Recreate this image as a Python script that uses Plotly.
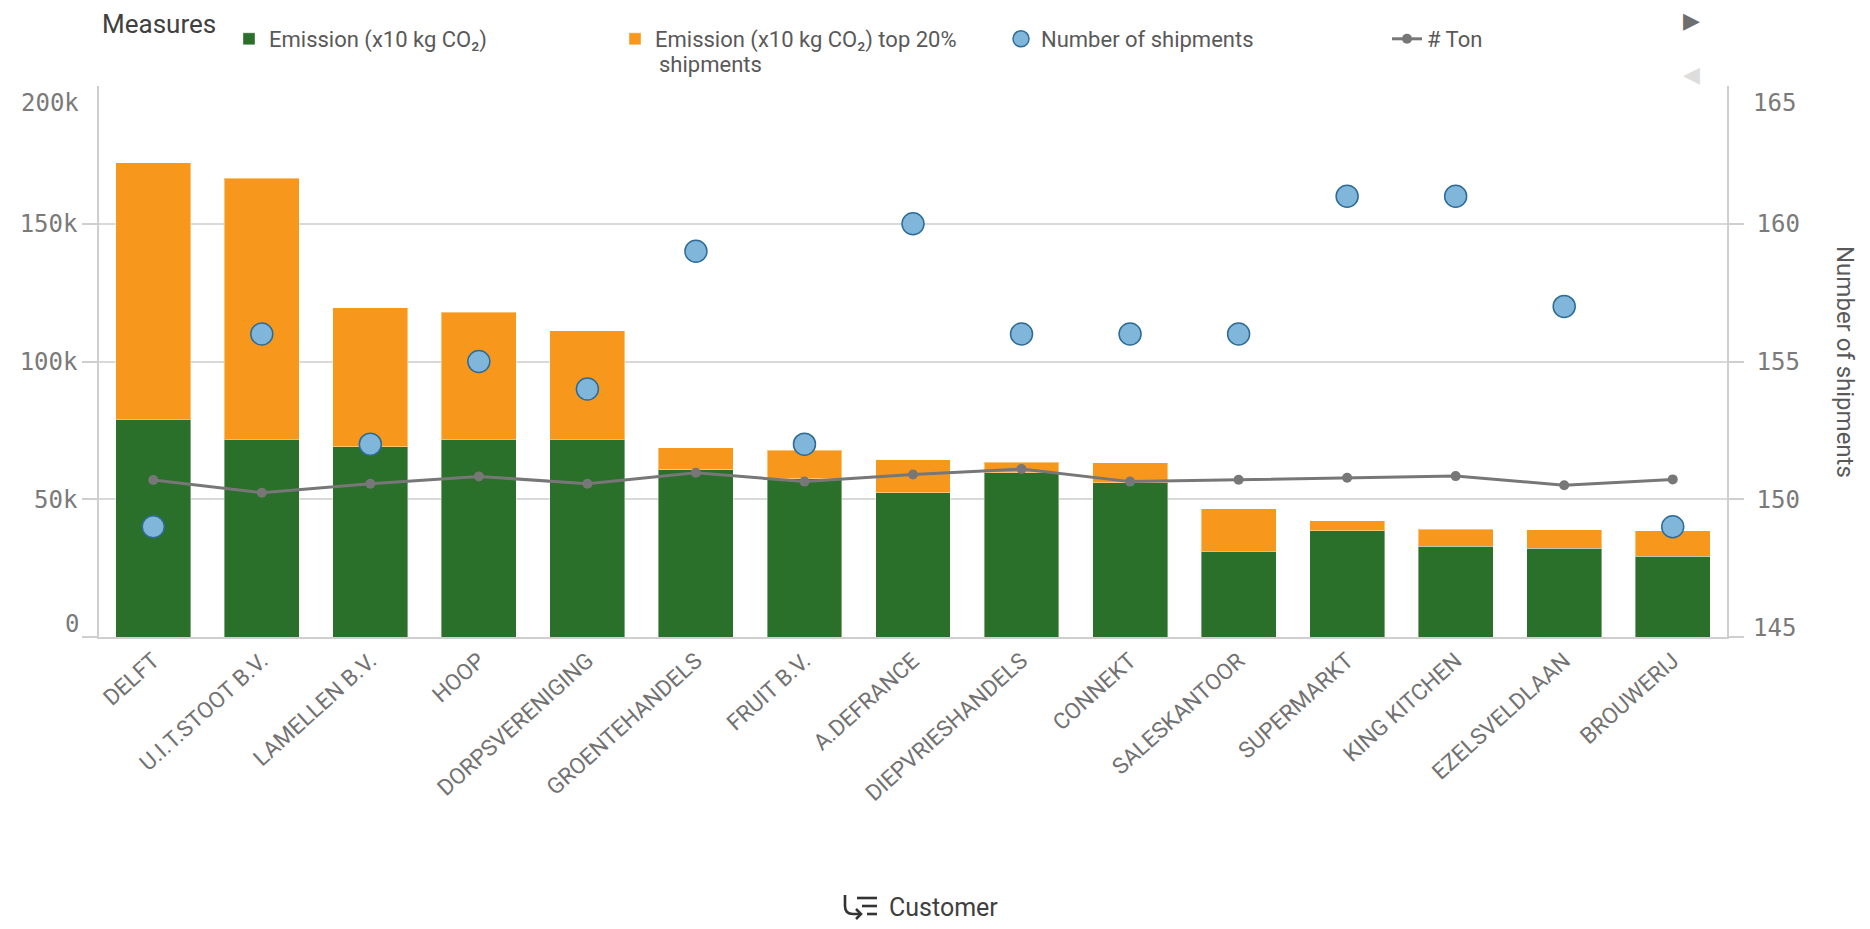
import plotly.graph_objects as go

customers = ["DELFT", "U.I.T.STOOT B.V.", "LAMELLEN B.V.", "HOOP", "DORPSVERENIGING",
             "GROENTEHANDELS", "FRUIT B.V.", "A.DEFRANCE", "DIEPVRIESHANDELS", "CONNEKT",
             "SALESKANTOOR", "SUPERMARKT", "KING KITCHEN", "EZELSVELDLAAN", "BROUWERIJ"]
emission = [79000, 71800, 69000, 71800, 71800, 60800, 57400, 52400, 59600, 56000,
            31100, 38500, 33000, 32300, 29400]
emission_top20 = [93100, 94700, 50600, 46100, 39300, 7900, 10300, 12000, 3900, 7200,
                  15500, 3700, 6100, 6600, 9100]
shipments = [149, 156, 152, 155, 154, 159, 152, 160, 156, 156, 156, 161, 161, 157, 149]
tons = [57000, 52400, 55600, 58300, 55600, 59600, 56400, 59000, 61000, 56400,
        57100, 57800, 58400, 55100, 57200]

left_ticks = [0, 50000, 100000, 150000]
left_text = ["", "50k", "100k", "150k"]
right_ticks = [145, 150, 155, 160]
right_text = ["", "150", "155", "160"]

GREEN = "#2a6f2a"
ORANGE = "#f7981d"
BLUE = "#7fb6d9"
BLUE_EDGE = "#2e6c97"
GREY = "#777777"
AXIS = "#cfcfcf"
TICKFONT = dict(family="DejaVu Sans Mono", size=24, color="#7a7a7a")
LEGFONT = dict(family="Roboto", size=22, color="#595959")

fig = go.Figure()
fig.add_trace(go.Bar(x=customers, y=emission, name="Emission (x10 kg CO₂)",
                     marker=dict(color=GREEN, line=dict(color="rgba(255,255,255,0.4)", width=1))))
fig.add_trace(go.Bar(x=customers, y=emission_top20,
                     name="Emission (x10 kg CO₂) top 20%",
                     marker=dict(color=ORANGE, line=dict(color="rgba(255,255,255,0.4)", width=1))))
fig.add_trace(go.Scatter(x=customers, y=shipments, name="Number of shipments", yaxis="y2",
                         mode="markers",
                         marker=dict(size=22, color=BLUE, line=dict(color=BLUE_EDGE, width=1.5))))
fig.add_trace(go.Scatter(x=customers, y=tons, name="# Ton", mode="lines+markers",
                         line=dict(color=GREY, width=3),
                         marker=dict(size=10, color=GREY)))

OFF = 8  # default body margin of the html page
W, H = 1870 - OFF, 929 - OFF
L, T = 99 - OFF, 86 - OFF
R = W - (1727 - OFF)
B = H - (637 - OFF)
pw, ph = W - L - R, H - T - B


def xp(page_x):
    return (page_x - OFF - L) / pw


def yp(page_y):
    return (T + ph - (page_y - OFF)) / ph


fig.update_layout(
    width=W, height=H,
    margin=dict(l=L, r=R, t=T, b=B, autoexpand=False),
    barmode="stack", bargap=0.31,
    plot_bgcolor="white", paper_bgcolor="white",
    font=dict(family="Roboto", color="#595959"),
    xaxis=dict(range=[-0.5, len(customers) - 0.5], tickangle=-42,
               tickfont=dict(family="Roboto", size=22.5, color="#727272"),
               showline=True, linecolor=AXIS, linewidth=1.5, ticks="", showgrid=False,
               automargin=False),
    yaxis=dict(range=[0, 200000], tickvals=left_ticks, ticktext=left_text,
               tickfont=TICKFONT, showline=True, linecolor=AXIS, linewidth=1.5,
               ticks="outside", ticklen=15, tickcolor=AXIS, tickwidth=1.5,
               showgrid=True, gridcolor="#d9d9d9", gridwidth=1.5, zeroline=False,
               automargin=False),
    yaxis2=dict(range=[145, 165], overlaying="y", side="right", tickvals=right_ticks,
                ticktext=right_text, tickfont=TICKFONT, showline=True, linecolor=AXIS,
                linewidth=1.5, ticks="outside", ticklen=15, tickcolor=AXIS, tickwidth=1.5,
                ticklabelstandoff=8, showgrid=False, zeroline=False, automargin=False),
    legend=dict(orientation="h", xref="container", yref="container",
                x=(229 - OFF) / W, xanchor="left", y=1 - (18 - OFF) / H, yanchor="top",
                font=LEGFONT, entrywidth=341, valign="top",
                itemwidth=30, traceorder="normal"),
    showlegend=True,
)

annotations = [
    dict(text="Measures", xref="paper", yref="paper", x=xp(100), xanchor="left",
         y=yp(24), yanchor="middle", showarrow=False,
         font=dict(family="Roboto", size=26, color="#404040")),
    dict(text="shipments", xref="paper", yref="paper", x=xp(657), xanchor="left",
         y=yp(64), yanchor="middle", showarrow=False, font=LEGFONT),
    dict(text="200k", xref="paper", yref="y", x=0, y=200000, xanchor="right", yanchor="middle",
         xshift=-18, yshift=-17, showarrow=False, font=TICKFONT),
    dict(text="0", xref="paper", yref="y", x=0, y=0, xanchor="right", yanchor="middle",
         xshift=-18, yshift=13, showarrow=False, font=TICKFONT),
    dict(text="165", xref="paper", yref="y2", x=1, y=165, xanchor="left", yanchor="middle",
         xshift=24, yshift=-17, showarrow=False, font=TICKFONT),
    dict(text="145", xref="paper", yref="y2", x=1, y=145, xanchor="left", yanchor="middle",
         xshift=24, yshift=9, showarrow=False, font=TICKFONT),
    dict(text="Number of shipments", xref="paper", yref="paper",
         x=xp(1845), xanchor="center", y=yp(362), yanchor="middle", textangle=90,
         showarrow=False, font=dict(family="Roboto", size=24, color="#595959")),
    dict(text="Customer", xref="paper", yref="paper", x=xp(887), xanchor="left",
         y=yp(907), yanchor="middle", showarrow=False,
         font=dict(family="Roboto", size=25, color="#404040")),
    dict(text="▶", xref="paper", yref="paper", x=xp(1691), xanchor="center",
         y=yp(21), yanchor="middle", showarrow=False,
         font=dict(family="DejaVu Sans", size=22, color="#6e6e6e")),
    dict(text="◀", xref="paper", yref="paper", x=xp(1691), xanchor="center",
         y=yp(74), yanchor="middle", showarrow=False,
         font=dict(family="DejaVu Sans", size=22, color="#dddddd")),
]
fig.update_layout(annotations=annotations)


# small sort icon next to "Customer" (page pixel coordinates)
def px_shape(path, width=2.6):
    return dict(type="path", path=path, xref="paper", yref="paper", xsizemode="pixel",
                ysizemode="pixel", xanchor=0, yanchor=0,
                line=dict(color="#333333", width=width))


def P(x, y):
    return f"{x - OFF - L},{(T + ph) - (y - OFF)}"


shapes = [
    px_shape(f"M{P(845, 895)} L{P(845, 906)} Q{P(845, 914)} {P(853, 914)} L{P(861, 914)}"),
    px_shape(f"M{P(856, 909)} L{P(861, 914)} L{P(856, 919)}"),
    px_shape(f"M{P(857, 898)} L{P(877, 898)}"),
    px_shape(f"M{P(862, 906)} L{P(877, 906)}"),
    px_shape(f"M{P(867, 914)} L{P(877, 914)}"),
]
fig.update_layout(shapes=shapes)

fig.write_html("out.html")
